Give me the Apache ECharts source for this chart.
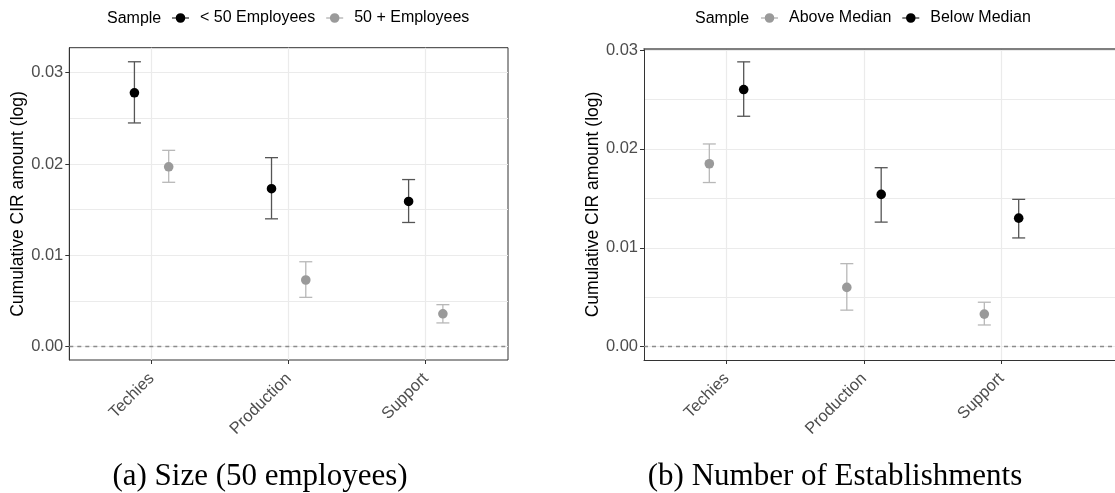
<!DOCTYPE html>
<html>
<head>
<meta charset="utf-8">
<script src="https://cdn.jsdelivr.net/npm/echarts@6/dist/echarts.min.js"></script>
<style>html,body{margin:0;padding:0;background:#fff;}#c{width:1115px;height:493px;}</style>
</head>
<body>
<div id="c"></div>
<script>
// ---- data ----
const categories = ['Techies', 'Production', 'Support'];
const yTickValues = [0, 0.01, 0.02, 0.03];
const yGridValues = [0, 0.005, 0.01, 0.015, 0.02, 0.025, 0.03];

// Panel (a): Size (50 employees)
const sizeSeriesNames = ['< 50 Employees', '50 + Employees'];
const smallEst = [0.0278, 0.0173, 0.0159];
const smallLow = [0.0245, 0.0140, 0.0136];
const smallHigh = [0.0312, 0.0207, 0.0183];
const largeEst = [0.0197, 0.0073, 0.0036];
const largeLow = [0.0180, 0.0054, 0.0026];
const largeHigh = [0.0215, 0.0093, 0.0046];

// Panel (b): Number of Establishments
const estSeriesNames = ['Above Median', 'Below Median'];
const aboveEst = [0.0185, 0.0060, 0.0033];
const aboveLow = [0.0166, 0.0037, 0.0022];
const aboveHigh = [0.0205, 0.0084, 0.0045];
const belowEst = [0.0260, 0.0154, 0.0130];
const belowLow = [0.0233, 0.0126, 0.0110];
const belowHigh = [0.0288, 0.0181, 0.0149];

const captionA = '(a) Size (50 employees)';
const captionB = '(b) Number of Establishments';
const yTitle = 'Cumulative CIR amount (log)';
const legendTitle = 'Sample';

// ---- styling ----
const DODGE = 0.25;
const BLACK = '#000000', GREY = '#9a9a9a';
const BLACK_BAR = '#555555', GREY_BAR = '#b8b8b8';
const FONT = 'Liberation Sans';

function makeData(est, lo, hi, slot) {
  return categories.map((c, i) => [i + 1 + (slot - 0.5) * DODGE, est[i], lo[i], hi[i]]);
}
function makeRender(barColor) {
  return function (params, api) {
    const x = api.value(0);
    const p = api.coord([x, api.value(1)]);
    const pl = api.coord([x, api.value(2)]);
    const ph = api.coord([x, api.value(3)]);
    const cw = 6.5;
    const ls = { stroke: barColor, lineWidth: 1.3 };
    return {
      type: 'group',
      children: [
        { type: 'line', shape: { x1: p[0], y1: pl[1], x2: p[0], y2: ph[1] }, style: ls },
        { type: 'line', shape: { x1: p[0] - cw, y1: pl[1], x2: p[0] + cw, y2: pl[1] }, style: ls },
        { type: 'line', shape: { x1: p[0] - cw, y1: ph[1], x2: p[0] + cw, y2: ph[1] }, style: ls },
        { type: 'circle', shape: { cx: p[0], cy: p[1], r: 4.8 }, style: { fill: api.visual('color') } }
      ]
    };
  };
}
const zeroLine = {
  silent: true, symbol: 'none', label: { show: false },
  lineStyle: { color: '#8c8c8c', type: [4, 4], width: 1.3 },
  data: [{ yAxis: 0 }]
};
function series(name, data, color, barColor, gi, withZero) {
  const s = {
    name: name, type: 'custom', renderItem: makeRender(barColor),
    xAxisIndex: gi, yAxisIndex: gi * 2, data: data, clip: false,
    itemStyle: { color: color }, encode: { x: 0, y: [1, 2, 3] }, z: 5
  };
  if (withZero) s.markLine = zeroLine;
  return s;
}

const grids = [
  { left: 69.3, top: 47.7, width: 438.7, height: 312.3, show: true, borderColor: '#333', borderWidth: 1 },
  { left: 644, top: 49, width: 471, height: 311, show: true, borderWidth: 0 }
];
const xRanges = [[0.4, 3.6], [0.4, 0.4 + 471 / 137.5]];
const yRanges = [[-0.00146, 0.03274], [-0.00134, 0.0301]];

function xAxis(gi) {
  return {
    type: 'value', gridIndex: gi, min: xRanges[gi][0], max: xRanges[gi][1],
    axisLine: { show: gi === 1, onZero: false, lineStyle: { color: '#333', width: 1 } },
    axisTick: { show: true, length: 4, customValues: [1, 2, 3], lineStyle: { color: '#333' } },
    axisLabel: {
      customValues: [1, 2, 3], rotate: 45, margin: 16,
      formatter: v => categories[Math.round(v) - 1],
      color: '#4d4d4d', fontFamily: FONT, fontSize: 16.5
    },
    splitLine: { show: true, lineStyle: { color: '#ebebeb', width: 1.2 } }
  };
}
function yAxes(gi) {
  return [
    {
      type: 'value', gridIndex: gi, min: yRanges[gi][0], max: yRanges[gi][1],
      axisLine: { show: true, onZero: false, lineStyle: { color: '#333' } },
      axisTick: { show: true, length: 4, customValues: yTickValues, lineStyle: { color: '#333' } },
      axisLabel: {
        customValues: yTickValues, margin: 6, formatter: v => v.toFixed(2),
        color: '#4d4d4d', fontFamily: FONT, fontSize: 16.5
      },
      splitLine: { show: false }
    },
    {
      type: 'value', gridIndex: gi, min: yRanges[gi][0], max: yRanges[gi][1], position: 'left',
      axisLine: { show: false },
      axisTick: { show: false, customValues: yGridValues },
      axisLabel: { show: false, customValues: yGridValues },
      splitLine: { show: true, lineStyle: { color: '#ebebeb', width: 1.1 } }
    }
  ];
}
// top border of the right panel (its right edge lies beyond the picture)
const topBorderAxis = {
  type: 'value', gridIndex: 1, position: 'top', min: xRanges[1][0], max: xRanges[1][1],
  axisLine: { show: true, onZero: false, lineStyle: { color: '#555', width: 1.6 } },
  axisTick: { show: false }, axisLabel: { show: false }, splitLine: { show: false }
};

const ICON = 'path://M0,4.4H5V5.6H0Z M12,4.4H17V5.6H12Z M13.3,5A4.8,4.8 0 1 1 3.7,5A4.8,4.8 0 1 1 13.3,5Z';
function legend(names, left) {
  return {
    data: names, left: left, top: 10, padding: 0, icon: ICON, itemWidth: 17, itemHeight: 10, itemGap: 11,
    textStyle: { fontFamily: FONT, fontSize: 16, color: '#000', padding: [0, 0, 0, 6] },
    selectedMode: false
  };
}

const option = {
  animation: false,
  backgroundColor: '#ffffff',
  grid: grids.map(g => Object.assign({ backgroundColor: '#fff', containLabel: false }, g)),
  xAxis: [xAxis(0), xAxis(1), topBorderAxis],
  yAxis: yAxes(0).concat(yAxes(1)),
  legend: [legend(sizeSeriesNames, 172), legend(estSeriesNames, 761)],
  graphic: [
    { type: 'text', x: 107, y: 19, style: { text: legendTitle, font: '16px "Liberation Sans"', fill: '#000', align: 'left', verticalAlign: 'middle' } },
    { type: 'text', x: 695, y: 19, style: { text: legendTitle, font: '16px "Liberation Sans"', fill: '#000', align: 'left', verticalAlign: 'middle' } },
    { type: 'text', x: 18.5, y: 204, rotation: Math.PI / 2, style: { text: yTitle, font: '17.5px "Liberation Sans"', fill: '#000', align: 'center', verticalAlign: 'middle' } },
    { type: 'text', x: 593, y: 204.5, rotation: Math.PI / 2, style: { text: yTitle, font: '17.5px "Liberation Sans"', fill: '#000', align: 'center', verticalAlign: 'middle' } },
    { type: 'text', x: 260, y: 477, style: { text: captionA, font: '31px "Liberation Serif"', fill: '#000', align: 'center', verticalAlign: 'middle' } },
    { type: 'text', x: 835, y: 477, style: { text: captionB, font: '31px "Liberation Serif"', fill: '#000', align: 'center', verticalAlign: 'middle' } }
  ],
  series: [
    series(sizeSeriesNames[0], makeData(smallEst, smallLow, smallHigh, 0), BLACK, BLACK_BAR, 0, true),
    series(sizeSeriesNames[1], makeData(largeEst, largeLow, largeHigh, 1), GREY, GREY_BAR, 0, false),
    series(estSeriesNames[0], makeData(aboveEst, aboveLow, aboveHigh, 0), GREY, GREY_BAR, 1, true),
    series(estSeriesNames[1], makeData(belowEst, belowLow, belowHigh, 1), BLACK, BLACK_BAR, 1, false)
  ]
};
const chart = echarts.init(document.getElementById('c'), null, { renderer: 'canvas' });
chart.setOption(option);
</script>
</body>
</html>
